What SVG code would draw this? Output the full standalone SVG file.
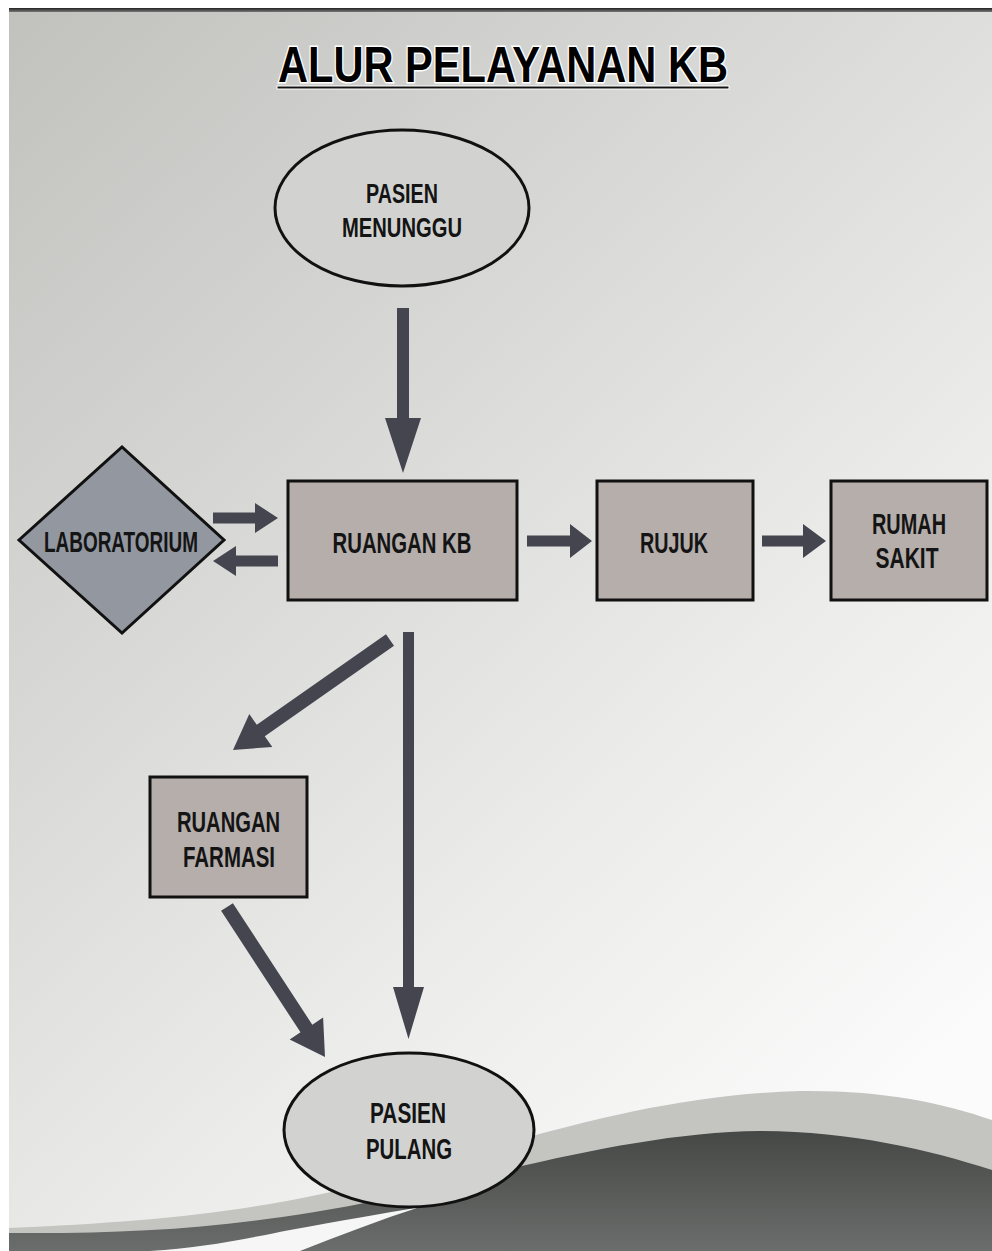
<svg xmlns="http://www.w3.org/2000/svg" width="992" height="1251" viewBox="0 0 992 1251">
<defs>
<linearGradient id="bg" x1="0" y1="0" x2="0.75" y2="1">
<stop offset="0" stop-color="#c1c2be"/>
<stop offset="0.35" stop-color="#d6d7d4"/>
<stop offset="0.7" stop-color="#ececeb"/>
<stop offset="1" stop-color="#fbfbfb"/>
</linearGradient>
<linearGradient id="dark" x1="0" y1="0" x2="0" y2="1">
<stop offset="0" stop-color="#454845"/>
<stop offset="1" stop-color="#6a6d6b"/>
</linearGradient>
<linearGradient id="topline" x1="0" y1="0" x2="0" y2="1">
<stop offset="0" stop-color="#222"/>
<stop offset="1" stop-color="#777"/>
</linearGradient>
<style>
.lbl{font-family:"Liberation Sans",Arial,sans-serif;font-weight:bold;fill:#141414;text-anchor:middle}
.s26{font-size:27px}
.s28{font-size:29px}
.box{fill:#b5aeab;stroke:#111;stroke-width:3}
.oval{fill:#d2d3d1;stroke:#111;stroke-width:3}
.dia{fill:#9297a0;stroke:#111;stroke-width:3}
.arr{fill:#45454f}
.title{font-family:"Liberation Sans",Arial,sans-serif;font-weight:bold;font-size:50px;fill:#000;stroke:#fff;stroke-width:3;paint-order:stroke;text-anchor:middle}
</style>
</defs>
<rect x="0" y="0" width="992" height="1251" fill="#fff"/>
<rect x="9" y="8" width="983" height="1243" fill="url(#bg)"/>
<rect x="9" y="8" width="983" height="4" fill="url(#topline)"/>
<g id="wave">
<path d="M9,1228 C150,1222 260,1212 380,1180 C520,1140 650,1095 800,1091 C880,1090 940,1102 992,1120 L992,1251 L9,1251 Z" fill="#c4c5c1"/>
<path d="M9,1233 C140,1234 240,1228 380,1200 C500,1172 640,1132 760,1131 C850,1131 930,1150 992,1170 L992,1251 L9,1251 Z" fill="url(#dark)"/>
<path d="M150,1251 C200,1248 240,1240 290,1230 C340,1221 380,1214 420,1207 C380,1220 340,1235 300,1251 Z" fill="#f6f6f6"/>
</g>
<text class="title" x="503" y="82" textLength="450" lengthAdjust="spacingAndGlyphs">ALUR PELAYANAN KB</text>
<rect x="277" y="86" width="452" height="3" fill="#111" stroke="#fff" stroke-width="1"/>
<g id="connectors">
<path class="arr" d="M397,308 H409 V418 H421 L403,473 L385,418 H397 Z"/>
<path class="arr" d="M213,512.5 H255 V503 L278,518 L255,533 V523.5 H213 Z"/>
<path class="arr" d="M278,555.5 H236 V546 L213,561 L236,576 V566.5 H278 Z"/>
<path class="arr" d="M527,535.5 H570 V524 L592,541 L570,558 V546.5 H527 Z"/>
<path class="arr" d="M762,535.5 H803 V524 L826,541 L803,558 V546.5 H762 Z"/>
<path class="arr" d="M386,634.3 L394,645.7 L264.8,736.2 L272.3,746.9 L233,750 L249.3,714.1 L256.8,724.8 Z"/>
<path class="arr" d="M403,632 H414 V987 H424 L408.5,1039 L393,987 H403 Z"/>
<path class="arr" d="M232.9,903.2 L312.3,1024.7 L323.1,1017.6 L325,1057 L289.7,1039.4 L300.5,1032.3 L221.1,910.8 Z"/>
</g>
<g id="pasien-menunggu">
<ellipse class="oval" cx="402" cy="208" rx="127" ry="78"/>
<text class="lbl s26" x="402" y="203" textLength="72" lengthAdjust="spacingAndGlyphs">PASIEN</text>
<text class="lbl s26" x="402" y="237" textLength="120" lengthAdjust="spacingAndGlyphs">MENUNGGU</text>
</g>
<g id="laboratorium">
<polygon class="dia" points="19,540 122,447 224,540 122,633"/>
<text class="lbl s28" x="121" y="552" textLength="154" lengthAdjust="spacingAndGlyphs">LABORATORIUM</text>
</g>
<g id="ruangan-kb">
<rect class="box" x="288" y="481" width="229" height="119"/>
<text class="lbl s28" x="402" y="553" textLength="139" lengthAdjust="spacingAndGlyphs">RUANGAN KB</text>
</g>
<g id="rujuk">
<rect class="box" x="597" y="481" width="156" height="119"/>
<text class="lbl s28" x="674" y="553" textLength="68" lengthAdjust="spacingAndGlyphs">RUJUK</text>
</g>
<g id="rumah-sakit">
<rect class="box" x="831" y="481" width="156" height="119"/>
<text class="lbl s28" x="909" y="534" textLength="74" lengthAdjust="spacingAndGlyphs">RUMAH</text>
<text class="lbl s28" x="907" y="568" textLength="63" lengthAdjust="spacingAndGlyphs">SAKIT</text>
</g>
<g id="ruangan-farmasi">
<rect class="box" x="150" y="777" width="157" height="120"/>
<text class="lbl s28" x="228.5" y="832" textLength="103" lengthAdjust="spacingAndGlyphs">RUANGAN</text>
<text class="lbl s28" x="229" y="867" textLength="92" lengthAdjust="spacingAndGlyphs">FARMASI</text>
</g>
<g id="pasien-pulang">
<ellipse class="oval" cx="409" cy="1130" rx="125" ry="77"/>
<text class="lbl s28" x="408" y="1123" textLength="76" lengthAdjust="spacingAndGlyphs">PASIEN</text>
<text class="lbl s28" x="409" y="1159" textLength="86" lengthAdjust="spacingAndGlyphs">PULANG</text>
</g>
</svg>
